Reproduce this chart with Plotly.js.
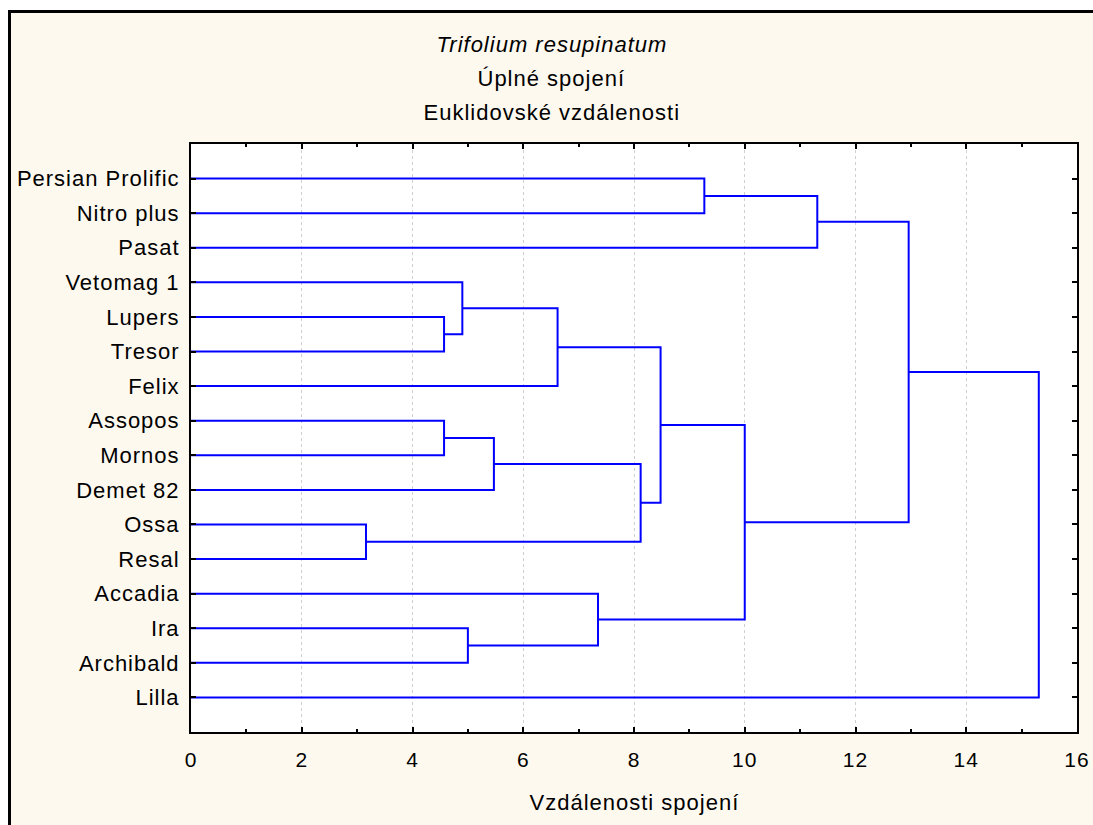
<!DOCTYPE html>
<html>
<head>
<meta charset="utf-8">
<script src="https://cdn.plot.ly/plotly-3.0.1.min.js"></script>
<style>
  html, body { margin: 0; padding: 0; background: #ffffff; }
  #frame { position: absolute; left: 8px; top: 10px; width: 1085px; height: 815px;
           border-top: 3px solid #000; border-left: 3px solid #000; background: #fdf9ef; box-sizing: border-box; }
  #chart { position: absolute; left: 0; top: 0; width: 1093px; height: 825px; }
  #chart svg text { letter-spacing: 1px; }
</style>
</head>
<body>
<div id="frame"></div>
<div id="chart"></div>
<script>
// Leaves, top to bottom
const leaves = ["Persian Prolific", "Nitro plus", "Pasat", "Vetomag 1", "Lupers", "Tresor", "Felix",
                "Assopos", "Mornos", "Demet 82", "Ossa", "Resal", "Accadia", "Ira", "Archibald", "Lilla"];
// Merge steps: node ids 0..15 are leaves, 16+ are clusters created in order
const mergeA = [10, 4, 7, 3, 13, 18, 19, 12, 21, 22, 0, 25, 26, 28, 29];
const mergeB = [11, 5, 8, 17, 14, 9, 6, 20, 16, 24, 1, 23, 2, 27, 15];
const mergeHeight = [3.16, 4.57, 4.57, 4.90, 5.00, 5.47, 6.62, 7.35, 8.12, 8.48, 9.27, 10.00, 11.31, 12.96, 15.31];

const title1 = "Trifolium resupinatum";
const title2 = "Úplné spojení";
const title3 = "Euklidovské vzdálenosti";
const xTitle = "Vzdálenosti spojení";

// node positions
const nodeY = leaves.map((_, i) => i + 1);
const nodeH = leaves.map(() => 0);
const xs = [], ys = [];
for (let k = 0; k < mergeA.length; k++) {
  const a = mergeA[k], b = mergeB[k], h = mergeHeight[k];
  xs.push(nodeH[a], h, h, nodeH[b], null);
  ys.push(nodeY[a], nodeY[a], nodeY[b], nodeY[b], null);
  nodeY.push((nodeY[a] + nodeY[b]) / 2);
  nodeH.push(h);
}

const FONT = "Liberation Sans, Arial, sans-serif";
const trace = {
  x: xs, y: ys, type: "scatter", mode: "lines",
  line: { color: "#0000ff", width: 2 }, hoverinfo: "skip", showlegend: false,
  connectgaps: false
};

const layout = {
  width: 1093, height: 825,
  margin: { l: 191, r: 16, t: 144, b: 93 },
  paper_bgcolor: "rgba(0,0,0,0)",
  plot_bgcolor: "#ffffff",
  font: { family: FONT, size: 21, color: "#000" },
  showlegend: false,
  xaxis: {
    range: [0, 16], tickmode: "linear", tick0: 0, dtick: 2,
    ticks: "inside", ticklen: 5, tickwidth: 2, tickcolor: "#000",
    minor: { dtick: 1, ticks: "inside", ticklen: 3, tickwidth: 2, tickcolor: "#000", showgrid: false },
    showline: true, linecolor: "#000", linewidth: 2, mirror: "ticks",
    showgrid: true, gridcolor: "#cfcfcf", griddash: "dot", gridwidth: 1,
    zeroline: false, fixedrange: true, ticklabelstandoff: 8,
    tickfont: { family: FONT, size: 21, color: "#000" }
  },
  yaxis: {
    range: [17, 0], tickmode: "array", tickvals: leaves.map((_, i) => i + 1), ticktext: leaves,
    ticks: "inside", ticklen: 5, tickwidth: 2, tickcolor: "#000",
    showline: true, linecolor: "#000", linewidth: 2, mirror: "ticks",
    showgrid: false, zeroline: false, fixedrange: true, ticklabelstandoff: 5,
    tickfont: { family: FONT, size: 22, color: "#000" }
  },
  annotations: [
    { text: "<i>" + title1 + "</i>", xref: "paper", yref: "paper", x: 0.407, y: 1.170, xanchor: "center", yanchor: "middle", showarrow: false, font: { family: FONT, size: 22 } },
    { text: title2, xref: "paper", yref: "paper", x: 0.407, y: 1.1122, xanchor: "center", yanchor: "middle", showarrow: false, font: { family: FONT, size: 22 } },
    { text: title3, xref: "paper", yref: "paper", x: 0.407, y: 1.0544, xanchor: "center", yanchor: "middle", showarrow: false, font: { family: FONT, size: 22 } },
    { text: xTitle, xref: "paper", yref: "paper", x: 0.5, y: -0.1207, xanchor: "center", yanchor: "middle", showarrow: false, font: { family: FONT, size: 22 } }
  ]
};

Plotly.newPlot("chart", [trace], layout, { displayModeBar: false, staticPlot: true });
</script>
</body>
</html>
